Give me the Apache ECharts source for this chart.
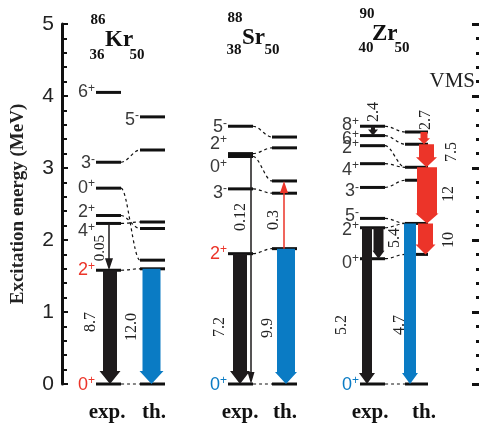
<!DOCTYPE html>
<html><head><meta charset="utf-8">
<script src="https://cdn.jsdelivr.net/npm/echarts/dist/echarts.min.js"></script>
<style>html,body{margin:0;padding:0;background:#fff}#c{width:481px;height:428px}</style>
</head><body><div id="c"></div>
<script>
// ================= DATA (energies in MeV, B(E2) values) =================
const yTicks = [0, 1, 2, 3, 4, 5];
const elements = ['Kr', 'Sr', 'Zr'];
const massNumbers = ['86', '88', '90'];
const protonNumbers = ['36', '38', '40'];
const neutronNumbers = ['50', '50', '50'];
const columnNames = ['exp.', 'th.'];
const modelName = 'VMS';

// 86Kr
const krExpE = [0, 1.58, 2.23, 2.34, 2.72, 3.08, 4.05];
const krExpJ = ['0+', '2+', '4+', '2+', '0+', '3-', '6+'];
const krThE  = [0, 1.60, 1.72, 2.16, 2.25, 3.25, 3.71];
const krThJ  = ['', '', '', '', '', '', '5-'];
const krLinks = [[0, 0], [1, 1], [2, 4], [3, 3], [4, 2], [5, 5]];
const krExpTr = [[2.23, 1.58, '0.05'], [1.58, 0, '8.7']];
const krThTr  = [[1.60, 0, '12.0']];

// 88Sr
const srExpE = [0, 1.81, 2.71, 3.16, 3.20, 3.58];
const srExpJ = ['0+', '2+', '3-', '0+', '2+', '5-'];
const srThE  = [0, 1.88, 2.65, 2.82, 3.28, 3.43];
const srThJ  = ['', '', '', '', '', ''];
const srLinks = [[0, 0], [1, 1], [2, 2], [3, 3], [4, 4], [5, 5]];
const srExpTr = [[1.81, 0, '7.2'], [3.20, 0, '0.12']];
const srThTr  = [[1.88, 0, '9.9'], [1.88, 2.82, '0.3']];

// 90Zr
const zrExpE = [0, 1.74, 2.17, 2.30, 2.73, 3.06, 3.31, 3.45, 3.58];
const zrExpJ = ['0+', '0+', '2+', '5-', '3-', '4+', '2+', '6+', '8+'];
const zrThE  = [0, 1.80, 2.23, 2.83, 3.01, 3.33, 3.50];
const zrThJ  = ['', '', '', '', '', '', ''];
const zrLinks = [[0, 0], [1, 1], [2, 2], [3, 2], [4, 3], [5, 4], [6, 4], [7, 5], [8, 6]];
const zrExpTr = [[3.58, 3.45, '2.4'], [2.17, 0, '5.2'], [2.17, 1.74, '5.4']];
const zrThTr  = [[2.23, 0, '4.7'], [3.50, 3.33, '2.7'], [3.33, 3.01, '7.5'], [3.01, 2.23, '12'], [2.23, 1.80, '10']];

// ================= LAYOUT / STYLE =================
const BLACK = '#1e1b1c', BLUE = '#0a7bc4', RED = '#ec3429', TXT = '#3a3a3a';
const cols = [
  { exp: [96, 121], th: [140, 165] },
  { exp: [228, 253], th: [272, 297] },
  { exp: [360, 385], th: [405, 428] }
];
// label vertical nudges (px) and colours
const expLabelDy = [[1, 0, 8, -3, 0, 1, 0], [1, 0, 4, 11, -10, 1], [1, 4, 2, -2, 4, 6, 2, 3, -1]];
const expLabelCol = [[RED, RED], [BLUE, RED], [BLUE]];
// arrow styles: x centre, shaft width, head width, head length, colour, label x, label y(px)
const expArrowStyle = [
  [{x:109, w:1.5, hw:8, hl:12, c:BLACK, lx:100, ly:248, fs:15}, {x:110, w:14, hw:21, hl:13, c:BLACK, lx:91, ly:322}],
  [{x:240, w:14, hw:20, hl:13, c:BLACK, lx:220, ly:327}, {x:251, w:1.5, hw:7, hl:12, c:BLACK, lx:241, ly:217}],
  [{x:373, w:4, hw:10, hl:6, c:BLACK, lx:374, ly:112}, {x:367, w:10, hw:16, hl:11, c:BLACK, lx:342, ly:325}, {x:378.5, w:10, hw:12, hl:8, c:BLACK, lx:395, ly:238}]
];
const thArrowStyle = [
  [{x:151.5, w:18, hw:24, hl:13, c:BLUE, lx:132, ly:327}],
  [{x:286, w:18, hw:22, hl:12, c:BLUE, lx:268, ly:328}, {x:284, w:1.5, hw:8, hl:12, c:RED, lx:274, ly:220}],
  [{x:410, w:12, hw:16, hl:11, c:BLUE, lx:400, ly:325}, {x:424, w:7, hw:12, hl:6, c:RED, lx:426, ly:120},
   {x:426.5, w:15, hw:21, hl:10, c:RED, lx:452, ly:152}, {x:427, w:20, hw:23, hl:10, c:RED, lx:449, ly:194},
   {x:425.5, w:15, hw:20, hl:10, c:RED, lx:449, ly:240}]
];

const GRID_TOP = 24, GRID_BOTTOM_Y = 384, YMAX = 5;
const pxToE = y => (GRID_BOTTOM_Y - y) / (GRID_BOTTOM_Y - GRID_TOP) * YMAX;

const nucData = [
  {expE: krExpE, expJ: krExpJ, thE: krThE, thJ: krThJ, links: krLinks, expTr: krExpTr, thTr: krThTr},
  {expE: srExpE, expJ: srExpJ, thE: srThE, thJ: srThJ, links: srLinks, expTr: srExpTr, thTr: srThTr},
  {expE: zrExpE, expJ: zrExpJ, thE: zrThE, thJ: zrThJ, links: zrLinks, expTr: zrExpTr, thTr: zrThTr}
];

// ================= BUILD ITEMS =================
const items = [];
nucData.forEach((n, k) => {
  const c = cols[k];
  n.expE.forEach(e => items.push({t: 'lvl', x1: c.exp[0], x2: c.exp[1], e}));
  n.thE.forEach(e => items.push({t: 'lvl', x1: c.th[0], x2: c.th[1], e}));
  n.links.forEach(([a, b]) => items.push({t: 'link', x1: c.exp[1], e1: n.expE[a], x2: c.th[0], e2: n.thE[b]}));
});
nucData.forEach((n, k) => {
  const c = cols[k];
  n.expTr.forEach((tr, i) => { const s = expArrowStyle[k][i]; items.push({t: 'arr', e1: tr[0], e2: tr[1], ...s}); });
  n.thTr.forEach((tr, i) => { const s = thArrowStyle[k][i]; items.push({t: 'arr', e1: tr[0], e2: tr[1], ...s}); });
  n.expTr.forEach((tr, i) => { const s = expArrowStyle[k][i]; items.push({t: 'be2', x: s.lx, e: pxToE(s.ly), text: tr[2], fs: s.fs || 16}); });
  n.thTr.forEach((tr, i) => { const s = thArrowStyle[k][i]; items.push({t: 'be2', x: s.lx, e: pxToE(s.ly), text: tr[2], fs: s.fs || 16}); });
  n.expE.forEach((e, i) => items.push({t: 'spin', x: c.exp[0] - 1, e, dy: expLabelDy[k][i], text: n.expJ[i], col: expLabelCol[k][i] || TXT}));
  n.thE.forEach((e, i) => { if (n.thJ[i]) items.push({t: 'spin', x: c.th[0] - 1, e, dy: 3, text: n.thJ[i], col: TXT}); });
});

function spinRich(j) { return '{n|' + j.slice(0, -1) + '}{s|' + j.slice(-1) + '}'; }

function renderItem(params, api) {
  const it = items[params.dataIndex];
  if (it.t === 'lvl') {
    const a = api.coord([it.x1, it.e]), b = api.coord([it.x2, it.e]);
    return {type: 'line', shape: {x1: a[0], y1: a[1], x2: b[0], y2: b[1]}, style: {stroke: '#111', lineWidth: 3}};
  }
  if (it.t === 'link') {
    const a = api.coord([it.x1, it.e1]), b = api.coord([it.x2, it.e2]);
    const dx = b[0] - a[0];
    return {type: 'bezierCurve', shape: {x1: a[0], y1: a[1], x2: b[0], y2: b[1],
      cpx1: a[0] + dx * 0.35, cpy1: a[1], cpx2: a[0] + dx * 0.65, cpy2: b[1]},
      style: {stroke: '#111', lineWidth: 1.2, lineDash: [3, 3], fill: null}};
  }
  if (it.t === 'arr') {
    const a = api.coord([it.x, it.e1]), b = api.coord([it.x, it.e2]);
    const cx = a[0], y1 = a[1], y2 = b[1], d = y2 > y1 ? 1 : -1;
    const yb = y2 - d * it.hl, w = it.w / 2, hw = it.hw / 2;
    return {type: 'polygon', shape: {points: [[cx - w, y1], [cx + w, y1], [cx + w, yb], [cx + hw, yb], [cx, y2], [cx - hw, yb], [cx - w, yb]]},
      style: {fill: it.c, stroke: null}};
  }
  if (it.t === 'be2') {
    const p = api.coord([it.x, it.e]);
    return {type: 'text', x: p[0], y: p[1], rotation: Math.PI / 2,
      style: {text: it.text, fill: '#222', font: it.fs + 'px "Liberation Serif"', align: 'center', verticalAlign: 'middle'}};
  }
  if (it.t === 'spin') {
    const p = api.coord([it.x, it.e]);
    return {type: 'text', x: p[0], y: p[1] + it.dy,
      style: {text: spinRich(it.text), align: 'right', verticalAlign: 'middle',
        rich: {n: {font: '18px "Liberation Sans"', fill: it.col, lineHeight: 20},
               s: {font: '12px "Liberation Sans"', fill: it.col, verticalAlign: 'top', lineHeight: 20}}}};
  }
  return null;
}

// ================= TITLES =================
const titlePos = [
  {mass: [98, 20], el: [105, 40], z: [97, 55], n: [137, 55], exp: 107, th: 154},
  {mass: [235, 18], el: [242, 38], z: [234, 50], n: [272, 50], exp: 240, th: 285},
  {mass: [367, 14], el: [372, 34], z: [366, 48], n: [402, 48], exp: 370, th: 424}
];
const graphic = [];
titlePos.forEach((p, k) => {
  const small = '700 15px "Liberation Serif"';
  graphic.push({type: 'text', x: p.mass[0], y: p.mass[1], style: {text: massNumbers[k], font: small, fill: '#111', align: 'center', verticalAlign: 'middle'}});
  graphic.push({type: 'text', x: p.el[0], y: p.el[1], style: {text: elements[k], font: '700 23px "Liberation Serif"', fill: '#111', align: 'left', verticalAlign: 'middle'}});
  graphic.push({type: 'text', x: p.z[0], y: p.z[1], style: {text: protonNumbers[k], font: small, fill: '#111', align: 'center', verticalAlign: 'middle'}});
  graphic.push({type: 'text', x: p.n[0], y: p.n[1], style: {text: neutronNumbers[k], font: small, fill: '#111', align: 'center', verticalAlign: 'middle'}});
  graphic.push({type: 'text', x: p.exp, y: 413, style: {text: columnNames[0], font: '700 21px "Liberation Serif"', fill: '#111', align: 'center', verticalAlign: 'middle'}});
  graphic.push({type: 'text', x: p.th, y: 413, style: {text: columnNames[1], font: '700 21px "Liberation Serif"', fill: '#111', align: 'center', verticalAlign: 'middle'}});
});
graphic.push({type: 'text', x: 475, y: 81, style: {text: modelName, font: '21px "Liberation Serif"', fill: '#222', align: 'right', verticalAlign: 'middle'}});

// ================= CHART =================
const chart = echarts.init(document.getElementById('c'), null, {renderer: 'canvas'});
chart.setOption({
  animation: false,
  grid: {left: 62, right: 2, top: GRID_TOP, bottom: 428 - GRID_BOTTOM_Y, containLabel: false},
  xAxis: {type: 'value', min: 62, max: 479, show: false},
  yAxis: [{
    type: 'value', min: yTicks[0], max: yTicks[yTicks.length - 1], interval: 1, position: 'left',
    axisLine: {show: true, lineStyle: {color: '#111', width: 3}},
    axisTick: {show: true, inside: true, length: 6, lineStyle: {color: '#111', width: 2}},
    minorTick: {show: true, splitNumber: 5, length: 5, lineStyle: {color: '#111', width: 2}},
    splitLine: {show: false},
    axisLabel: {color: '#222', fontSize: 21, fontFamily: 'Liberation Sans', margin: 8},
    name: 'Excitation energy (MeV)', nameLocation: 'middle', nameGap: 34, nameRotate: 90,
    nameTextStyle: {fontFamily: 'Liberation Serif', fontWeight: 'bold', fontSize: 19, color: '#222'}
  }, {
    type: 'value', min: yTicks[0], max: yTicks[yTicks.length - 1], interval: 1, position: 'right',
    axisLine: {show: false},
    axisTick: {show: true, inside: true, length: 7, lineStyle: {color: '#111', width: 3}},
    minorTick: {show: true, splitNumber: 5, length: 3, lineStyle: {color: '#111', width: 3}},
    axisLabel: {show: false}, splitLine: {show: false}
  }],
  graphic: graphic,
  series: [{
    type: 'custom', coordinateSystem: 'cartesian2d', clip: false,
    renderItem: renderItem,
    data: items.map(it => [it.x1 !== undefined ? it.x1 : it.x, it.e !== undefined ? it.e : it.e1])
  }]
});
</script></body></html>
